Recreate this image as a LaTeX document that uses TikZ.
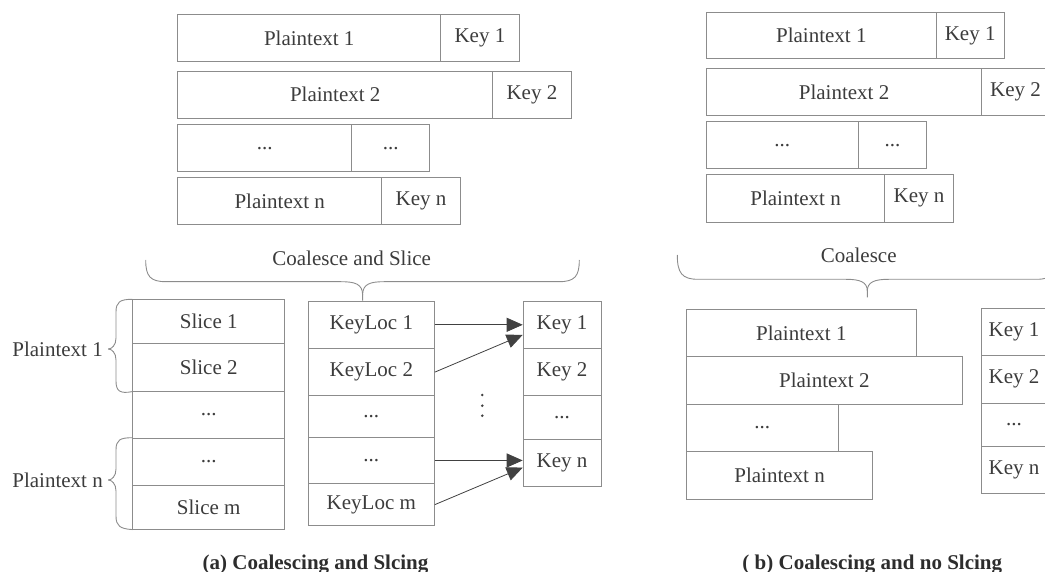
\documentclass[tikz,border=0pt]{standalone}
\usepackage{fontspec}
\setmainfont{Liberation Serif}
\usetikzlibrary{arrows.meta,calc}
\definecolor{boxline}{RGB}{140,140,140}
\definecolor{txt}{RGB}{60,60,60}
\definecolor{arrcol}{RGB}{65,65,65}
\definecolor{captxt}{RGB}{45,45,45}
\tikzset{
  cell/.style={draw=boxline, line width=0.9pt, rectangle, inner sep=0pt, text=txt, anchor=north west},
  bracepath/.style={draw=boxline, line width=0.9pt},
  arr/.style={draw=arrcol, line width=0.8pt, -{Triangle[length=16pt,width=14pt]}, arrcol},
  lbl/.style={text=txt, inner sep=0pt},
  captionstyle/.style={text=captxt, inner sep=0pt, font=\fontsize{21}{25}\selectfont\bfseries},
}
\newcommand\cellbox[6]{\node[cell, minimum width={(#4)-(#2)}, minimum height={(#5)-(#3)}] (#1) at (#2,#3) {#6};}
\begin{document}
\begin{tikzpicture}[x=1pt,y=-1pt,font=\fontsize{21}{25}\selectfont]
\useasboundingbox (0,0) rectangle (1045,572);
\clip (0,0) rectangle (1045,572);
% ---------- (a) top ----------
\cellbox{ap1}{177.3}{14}{440.3}{61}{Plaintext 1}
\cellbox{ak1}{440.3}{14}{518.7}{61}{Key 1}
\cellbox{ap2}{177.3}{70.7}{492.3}{118}{Plaintext 2}
\cellbox{ak2}{492.3}{70.7}{570.7}{118}{Key 2}
\cellbox{ap3}{177.3}{124}{351.3}{171.3}{...}
\cellbox{ak3}{351.3}{124}{429.3}{171.3}{...}
\cellbox{ap4}{177.3}{177.3}{381.3}{224}{Plaintext n}
\cellbox{ak4}{381.3}{177.3}{460}{224}{Key n}
% ---------- (b) top ----------
\cellbox{bp1}{706}{11.7}{935.7}{58.3}{Plaintext 1}
\cellbox{bk1}{935.7}{11.7}{1003.7}{58.3}{Key 1}
\cellbox{bp2}{706}{68.3}{981.3}{115}{Plaintext 2}
\cellbox{bk2}{981.3}{68.3}{1049}{115}{Key 2}
\cellbox{bp3}{706}{121}{857.7}{168.3}{...}
\cellbox{bk3}{857.7}{121}{926.3}{168.3}{...}
\cellbox{bp4}{706}{174}{884.3}{221.7}{Plaintext n}
\cellbox{bk4}{884.3}{174}{952.7}{221.7}{Key n}
% ---------- (a) braces and label ----------
\node[lbl, anchor=base] (cas) at (351.7,266) {Coalesce and Slice};
\coordinate (tipA) at (362.6,300.7);
\draw[bracepath] (145.7,260) .. controls (145.7,276) and (150,281.7) .. (166,281.7)
  -- (341,281.7) .. controls (355,281.7) and (362.6,284) .. (362.6,295) -- (tipA);
\draw[bracepath] (579.3,260) .. controls (579.3,276) and (575,281.7) .. (559,281.7)
  -- (384,281.7) .. controls (370,281.7) and (362.6,284) .. (362.6,295);
% slice column
\cellbox{s1}{132.3}{299.3}{284.3}{343.3}{Slice 1}
\cellbox{s2}{132.3}{343.3}{284.3}{390.7}{Slice 2}
\cellbox{s3}{132.3}{390.7}{284.3}{437.7}{...}
\cellbox{s4}{132.3}{437.7}{284.3}{485.3}{...}
\cellbox{s5}{132.3}{485.3}{284.3}{528.7}{Slice m}
% keyloc column
\cellbox{kl1}{307.7}{300.7}{434}{348}{KeyLoc 1}
\cellbox{kl2}{307.7}{348}{434}{395.3}{KeyLoc 2}
\cellbox{kl3}{307.7}{395.3}{434}{436.7}{...}
\cellbox{kl4}{307.7}{436.7}{434}{483.3}{...}
\cellbox{kl5}{307.7}{483.3}{434}{525}{KeyLoc m}
% key column
\cellbox{k1}{522.7}{300.7}{600.5}{348}{Key 1}
\cellbox{k2}{522.7}{348}{600.5}{395.3}{Key 2}
\cellbox{k3}{522.7}{395.3}{600.5}{439.3}{...}
\cellbox{k4}{522.7}{439.3}{600.5}{486}{Key n}
% side braces
\node[lbl, anchor=east] (lp1) at (103,349) {Plaintext 1};
\coordinate (tip1) at (108.3,349);
\draw[bracepath] (s1.north west) .. controls (120,299.3) and (116,302) .. (116,312)
  -- (116,338) .. controls (116,345) and (112,349) .. (tip1);
\draw[bracepath] (s2.south west) .. controls (120,394) and (116,391) .. (116,381)
  -- (116,360) .. controls (116,353) and (112,349) .. (tip1);
\node[lbl, anchor=east] (lpn) at (103,480) {Plaintext n};
\coordinate (tipn) at (108.3,480);
\draw[bracepath] (s4.north west) .. controls (120,437.7) and (116,440) .. (116,450)
  -- (116,469) .. controls (116,476) and (112,480) .. (tipn);
\draw[bracepath] (s5.south west) .. controls (120,528.7) and (116,526) .. (116,516)
  -- (116,491) .. controls (116,484) and (112,480) .. (tipn);
% arrows
\draw[arr] (kl1.east) -- (kl1.east -| k1.west);
\draw[arr] (kl2.east) -- ($(k1.south west)+(0,-14)$);
\draw[arr] (kl4.east) -- (kl4.east -| k4.west);
\draw[arr] (kl5.east) -- ($(k4.west)+(0,4.5)$);
% vertical dots
\foreach \yy in {395,405.7,415.7} \fill[arrcol] (482.3,\yy) circle (1.4);
% ---------- (b) bottom ----------
\node[lbl, anchor=base] (coal) at (858.7,262.7) {Coalesce};
\coordinate (tipB) at (867.3,297.3);
\draw[bracepath] (677.3,255) .. controls (677.3,273) and (682,279.3) .. (698,279.3)
  -- (846,279.3) .. controls (860,279.3) and (867.3,282) .. (867.3,291) -- (tipB);
\draw[bracepath] (1057.3,255) .. controls (1057.3,273) and (1052.6,279.3) .. (1036.6,279.3)
  -- (888.6,279.3) .. controls (874.6,279.3) and (867.3,282) .. (867.3,291);
\cellbox{cp1}{686}{309}{915.7}{356.2}{Plaintext 1}
\cellbox{cp2}{686}{356.2}{961.7}{404}{Plaintext 2}
\cellbox{cp3}{686}{404}{837.7}{451}{...}
\cellbox{cp4}{686}{451}{872.3}{498.7}{Plaintext n}
\cellbox{ck1}{980.7}{307.7}{1046.5}{355}{Key 1}
\cellbox{ck2}{980.7}{355}{1046.5}{402.7}{Key 2}
\cellbox{ck3}{980.7}{402.7}{1046.5}{446}{...}
\cellbox{ck4}{980.7}{446}{1046.5}{493.3}{Key n}
% captions
\node[captionstyle, anchor=base] (capa) at (315.5,569.5) {(a) Coalescing and Slcing};
\node[captionstyle, anchor=base] (capb) at (872.3,569.5) {( b) Coalescing and no Slcing};
\end{tikzpicture}
\end{document}
